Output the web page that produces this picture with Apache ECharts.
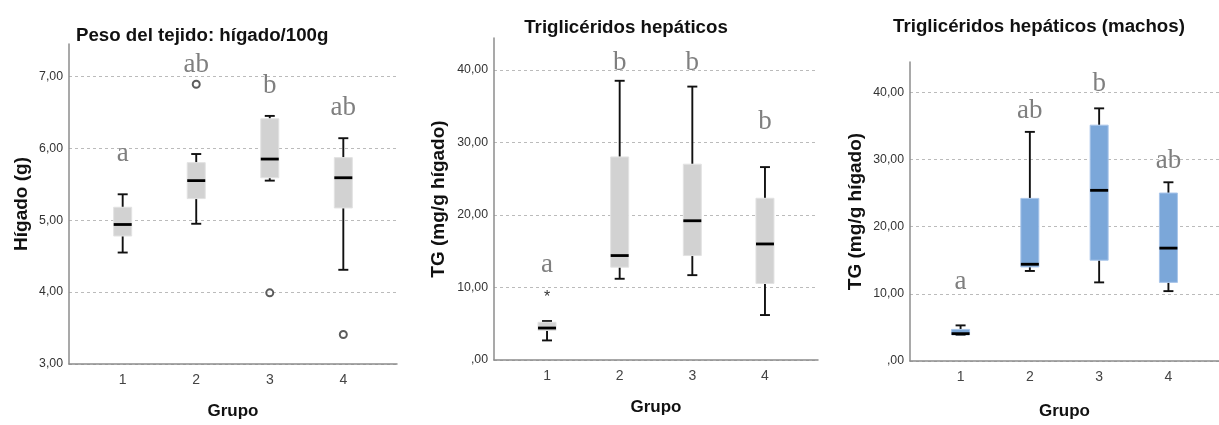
<!DOCTYPE html>
<html><head><meta charset="utf-8">
<script src="https://cdn.jsdelivr.net/npm/echarts@6/dist/echarts.min.js"></script>
<style>html,body{margin:0;padding:0;background:#fff}#c{width:1219px;height:425px}</style>
</head><body><div id="c"></div><script>
// ---------- data ----------
const groups = [1, 2, 3, 4];

// Panel 1: Peso del tejido (hígado, g)
const higadoMin = [4.55, 4.95, 5.55, 4.31];
const higadoQ1  = [4.78, 5.30, 5.59, 5.17];
const higadoMed = [4.94, 5.55, 5.85, 5.59];
const higadoQ3  = [5.18, 5.80, 6.41, 5.87];
const higadoMax = [5.36, 5.92, 6.45, 6.14];
const higadoOutGroup = [2, 3, 4];
const higadoOutValue = [6.89, 3.99, 3.41];
const higadoLetters = ['a', 'ab', 'b', 'ab'];
const higadoLetterY = [5.87, 7.11, 6.81, 6.50];
const higadoTicks = [3, 4, 5, 6, 7];
const higadoTickLabels = ['3,00', '4,00', '5,00', '6,00', '7,00'];

// Panel 2: Triglicéridos hepáticos
const tgMin = [2.70, 11.2, 11.7, 6.2];
const tgQ1  = [4.08, 12.8, 14.4, 10.55];
const tgMed = [4.41, 14.4, 19.2, 16.0];
const tgQ3  = [5.20, 28.0, 27.0, 22.3];
const tgMax = [5.37, 38.5, 37.7, 26.6];
const tgExtremeGroup = [1];
const tgExtremeValue = [9.1];
const tgLetters = ['a', 'b', 'b', 'b'];
const tgLetterY = [12.5, 40.4, 40.4, 32.3];

// Panel 3: Triglicéridos hepáticos (machos)
const tgmMin = [3.90, 13.4, 11.7, 10.4];
const tgmQ1  = [3.90, 14.0, 15.0, 11.7];
const tgmMed = [4.07, 14.4, 25.4, 16.8];
const tgmQ3  = [4.70, 24.2, 35.1, 25.0];
const tgmMax = [5.30, 34.1, 37.6, 26.6];
const tgmLetters = ['a', 'ab', 'b', 'ab'];
const tgmLetterY = [11.2, 36.6, 40.6, 29.2];

const tgTicks = [0, 10, 20, 30, 40];
const tgTickLabels = [',00', '10,00', '20,00', '30,00', '40,00'];

// ---------- helpers ----------
function boxData(mn, q1, md, q3, mx) {
  return groups.map((g, i) => [g, mn[i], q1[i], md[i], q3[i], mx[i]]);
}
function makeBoxRender(fill, edge) {
  return function (params, api) {
    const x = api.value(0);
    const pMin = api.coord([x, api.value(1)]);
    const pQ1 = api.coord([x, api.value(2)]);
    const pMed = api.coord([x, api.value(3)]);
    const pQ3 = api.coord([x, api.value(4)]);
    const pMax = api.coord([x, api.value(5)]);
    const cx = pMed[0], hw = 9, cw = 5;
    const wl = { stroke: '#111', lineWidth: 1.9 };
    return {
      type: 'group', children: [
        { type: 'line', shape: { x1: cx, y1: pMax[1], x2: cx, y2: pQ3[1] }, style: wl },
        { type: 'line', shape: { x1: cx, y1: pQ1[1], x2: cx, y2: pMin[1] }, style: wl },
        { type: 'line', shape: { x1: cx - cw, y1: pMax[1], x2: cx + cw, y2: pMax[1] }, style: wl },
        { type: 'line', shape: { x1: cx - cw, y1: pMin[1], x2: cx + cw, y2: pMin[1] }, style: wl },
        { type: 'rect', shape: { x: cx - hw, y: pQ3[1], width: 2 * hw, height: pQ1[1] - pQ3[1] },
          style: { fill: fill, stroke: edge, lineWidth: 1 } },
        { type: 'line', shape: { x1: cx - hw, y1: pMed[1], x2: cx + hw, y2: pMed[1] },
          style: { stroke: '#000', lineWidth: 2.8 } }
      ]
    };
  };
}
function makeTextRender(texts, font, color, shift) {
  return function (params, api) {
    const p = api.coord([api.value(0), api.value(1)]);
    return {
      type: 'text', x: p[0], y: p[1] + shift,
      style: { text: texts[params.dataIndex], font: font, fill: color, align: 'center', verticalAlign: 'middle' }
    };
  };
}
const letterFont = '27px "Liberation Serif", "DejaVu Serif", serif';
const letterColor = '#7f7f7f';
const sans = '"Liberation Sans", Arial, sans-serif';

function xAxisFor(i, gap) {
  return {
    type: 'value', gridIndex: i, min: 0.27, max: 4.73,
    axisLine: { show: true, onZero: false, lineStyle: { color: '#8c8c8c', width: 1.5 } },
    axisTick: { show: false, customValues: groups },
    splitLine: { show: false },
    axisLabel: { customValues: groups, formatter: v => String(v), color: '#444', fontSize: 14, margin: 9, fontFamily: sans },
    name: 'Grupo', nameLocation: 'middle', nameGap: gap,
    nameTextStyle: { fontWeight: 'bold', fontSize: 17, color: '#111', fontFamily: sans }
  };
}
function yAxisFor(i, min, max, ticks, labels, name, gap) {
  return {
    type: 'value', gridIndex: i, min: min, max: max,
    axisLine: { show: true, onZero: false, lineStyle: { color: '#8c8c8c', width: 1.5 } },
    axisTick: { show: false, customValues: ticks },
    axisLabel: { customValues: ticks, formatter: v => labels[ticks.indexOf(v)] ?? '', color: '#333', fontSize: 12.3, margin: 6, fontFamily: sans },
    splitLine: { show: true, lineStyle: { type: [3, 3], color: '#bbbbbb', width: 1 } },
    name: name, nameLocation: 'middle', nameRotate: 90, nameGap: gap,
    nameTextStyle: { fontWeight: 'bold', fontSize: 19, color: '#111', fontFamily: sans }
  };
}

const chart = echarts.init(document.getElementById('c'), null, { renderer: 'canvas' });
const titleStyle = { fontSize: 18.7, fontWeight: 'bold', color: '#111', fontFamily: sans };
chart.setOption({
  animation: false,
  backgroundColor: '#fff',
  title: [
    { text: 'Peso del tejido: hígado/100g', left: 71, top: 21, textStyle: titleStyle },
    { text: 'Triglicéridos hepáticos', left: 621, top: 13, textAlign: 'center', textStyle: titleStyle },
    { text: 'Triglicéridos hepáticos (machos)', left: 1034, top: 12, textAlign: 'center', textStyle: titleStyle }
  ],
  grid: [
    { left: 69, top: 44, width: 328, height: 325 },
    { left: 494, top: 38, width: 324, height: 322 },
    { left: 910, top: 62, width: 320, height: 302 }
  ],
  xAxis: [xAxisFor(0, 39), xAxisFor(1, 39), xAxisFor(2, 42)],
  yAxis: [
    yAxisFor(0, 3, 7.45, higadoTicks, higadoTickLabels, 'Hígado (g)', 38),
    yAxisFor(1, 0, 44.4, tgTicks, tgTickLabels, 'TG (mg/g hígado)', 46),
    yAxisFor(2, 0, 44.5, tgTicks, tgTickLabels, 'TG (mg/g hígado)', 45)
  ],
  series: [
    { type: 'custom', xAxisIndex: 0, yAxisIndex: 0, renderItem: makeBoxRender('#d2d2d2', '#e2e2e2'),
      encode: { x: 0, y: [1, 2, 3, 4, 5] }, data: boxData(higadoMin, higadoQ1, higadoMed, higadoQ3, higadoMax) },
    { type: 'scatter', xAxisIndex: 0, yAxisIndex: 0, symbol: 'emptyCircle', symbolSize: 7,
      itemStyle: { color: '#333', borderWidth: 1.2 },
      data: higadoOutGroup.map((g, i) => [g, higadoOutValue[i]]) },
    { type: 'custom', xAxisIndex: 0, yAxisIndex: 0, renderItem: makeTextRender(higadoLetters, letterFont, letterColor, -4),
      encode: { x: 0, y: 1 }, data: groups.map((g, i) => [g, higadoLetterY[i]]) },

    { type: 'custom', xAxisIndex: 1, yAxisIndex: 1, renderItem: makeBoxRender('#d2d2d2', '#e2e2e2'),
      encode: { x: 0, y: [1, 2, 3, 4, 5] }, data: boxData(tgMin, tgQ1, tgMed, tgQ3, tgMax) },
    { type: 'custom', xAxisIndex: 1, yAxisIndex: 1, renderItem: makeTextRender(['*'], '16px ' + sans, '#333', 4),
      encode: { x: 0, y: 1 }, data: tgExtremeGroup.map((g, i) => [g, tgExtremeValue[i]]) },
    { type: 'custom', xAxisIndex: 1, yAxisIndex: 1, renderItem: makeTextRender(tgLetters, letterFont, letterColor, -4),
      encode: { x: 0, y: 1 }, data: groups.map((g, i) => [g, tgLetterY[i]]) },

    { type: 'custom', xAxisIndex: 2, yAxisIndex: 2, renderItem: makeBoxRender('#7ba7d9', '#a9c5ea'),
      encode: { x: 0, y: [1, 2, 3, 4, 5] }, data: boxData(tgmMin, tgmQ1, tgmMed, tgmQ3, tgmMax) },
    { type: 'custom', xAxisIndex: 2, yAxisIndex: 2, renderItem: makeTextRender(tgmLetters, letterFont, letterColor, -4),
      encode: { x: 0, y: 1 }, data: groups.map((g, i) => [g, tgmLetterY[i]]) }
  ]
});
</script></body></html>
